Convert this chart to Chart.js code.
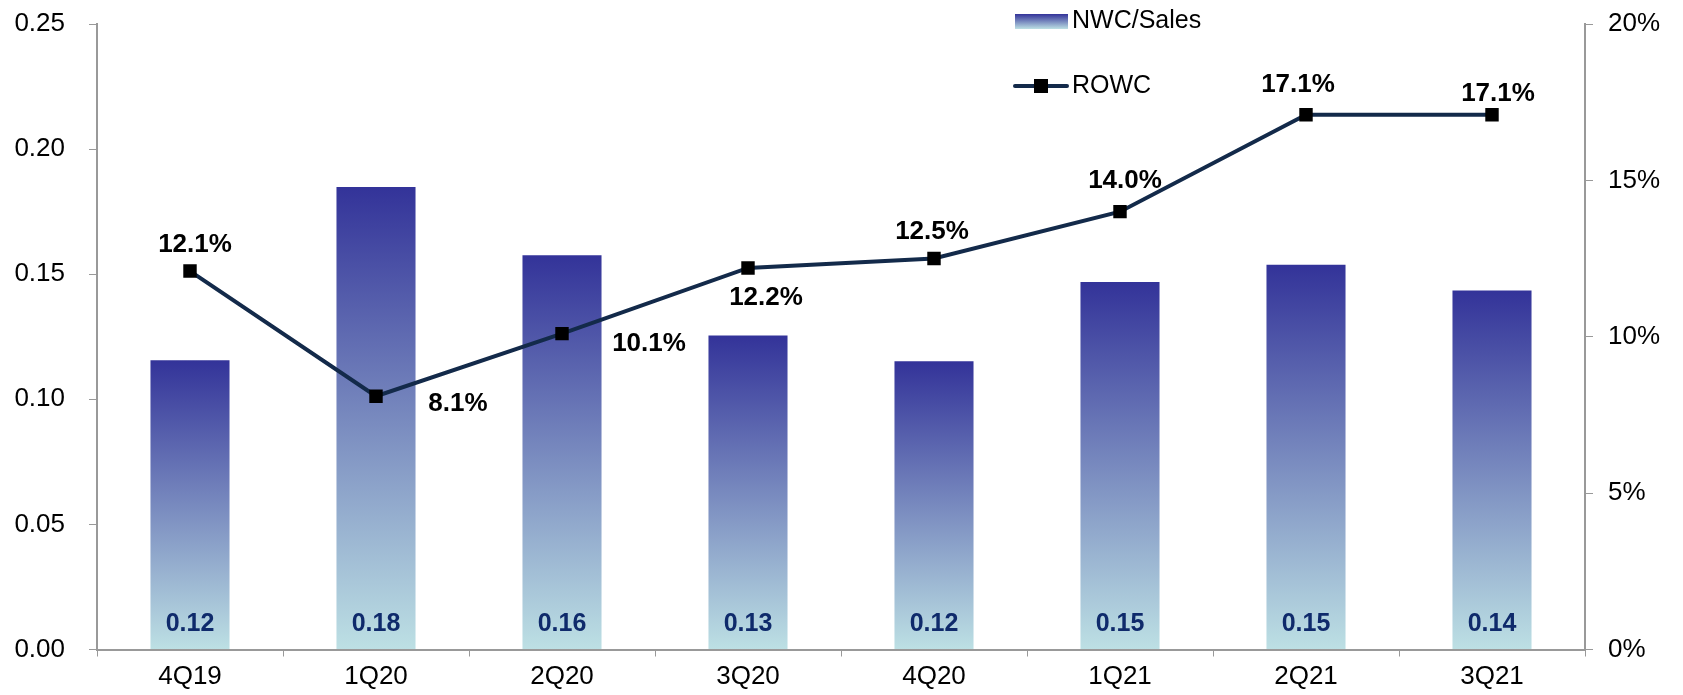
<!DOCTYPE html>
<html>
<head>
<meta charset="utf-8">
<script src="https://cdn.jsdelivr.net/npm/chart.js@4/dist/chart.umd.min.js"></script>
<style>
  html, body { margin: 0; padding: 0; background: #fff; }
  #wrap { width: 1683px; height: 695px; position: relative; }
</style>
</head>
<body>
<div id="wrap"><canvas id="myChart"></canvas></div>
<script>
// quarters on the x axis
const quarters = ['4Q19', '1Q20', '2Q20', '3Q20', '4Q20', '1Q21', '2Q21', '3Q21'];
// NWC/Sales ratio (bars, left axis)
const nwcSales = [0.1156, 0.1849, 0.1576, 0.1255, 0.1152, 0.1469, 0.1538, 0.1435];
// ROWC in % (line, right axis)
const rowc = [12.1, 8.1, 10.1, 12.2, 12.5, 14.0, 17.1, 17.1];
// axis ranges
const nwcRange = [0, 0.25, 0.05];
const rowcRange = [0, 20, 5];

// where each ROWC label sits relative to its point (dx, dy)
const rowcLabelPos = [[5, -26], [82, 8], [87, 10], [18, 30], [-2, -27], [5, -31], [-8, -30], [6, -21]];

const FONT = "'Liberation Sans', Arial, sans-serif";
const AXIS = '#999999';
const LINE = '#132a4a';
const BAR_TOP = '#333399';
const BAR_BOTTOM = '#bde0e4';

//BAR GRADIENT
function barGradient(ctx) {
    const chart = ctx.chart;
    const area = chart.chartArea;
    if (!area || ctx.type !== 'data') return BAR_TOP;
    const y = chart.scales.y;
    const top = y.getPixelForValue(ctx.raw);
    const bottom = y.getPixelForValue(0);
    const g = chart.ctx.createLinearGradient(0, top, 0, bottom);
    g.addColorStop(0, BAR_TOP);
    g.addColorStop(1, BAR_BOTTOM);
    return g;
}

//VALUE LABELS
const valueLabels = {
    id: 'valueLabels',
    afterDatasetsDraw(chart) {
        const ctx = chart.ctx;
        const y = chart.scales.y;
        ctx.save();
        ctx.textAlign = 'center';
        ctx.textBaseline = 'middle';
        // bar values near the base
        ctx.font = 'bold 25px ' + FONT;
        ctx.fillStyle = '#0f2a6b';
        chart.getDatasetMeta(0).data.forEach((bar, i) => {
            ctx.fillText(nwcSales[i].toFixed(2), bar.x, y.getPixelForValue(0) - 25);
        });
        // ROWC values
        ctx.font = 'bold 26px ' + FONT;
        ctx.fillStyle = '#000';
        chart.getDatasetMeta(1).data.forEach((pt, i) => {
            const [dx, dy] = rowcLabelPos[i];
            ctx.fillText(rowc[i].toFixed(1) + '%', pt.x + dx, pt.y + dy);
        });
        ctx.restore();
    }
};

//LEGEND
const sideLegend = {
    id: 'sideLegend',
    afterDraw(chart) {
        const ctx = chart.ctx;
        ctx.save();
        const g = ctx.createLinearGradient(0, 14, 0, 29);
        g.addColorStop(0, BAR_TOP);
        g.addColorStop(1, BAR_BOTTOM);
        ctx.fillStyle = g;
        ctx.fillRect(1015, 14, 53, 15);

        ctx.strokeStyle = LINE;
        ctx.lineWidth = 4;
        ctx.lineCap = 'round';
        ctx.beginPath();
        ctx.moveTo(1015, 86);
        ctx.lineTo(1067, 86);
        ctx.stroke();
        ctx.fillStyle = '#000';
        ctx.fillRect(1034, 79, 14, 14);

        ctx.font = '25px ' + FONT;
        ctx.textAlign = 'left';
        ctx.textBaseline = 'middle';
        ctx.fillText('NWC/Sales', 1072, 21);
        ctx.fillText('ROWC', 1072, 86);
        ctx.restore();
    }
};

const data = {
    labels: quarters,
    datasets: [{
        type: 'bar',
        label: 'NWC/Sales',
        data: nwcSales,
        yAxisID: 'y',
        backgroundColor: barGradient,
        borderWidth: 0,
        categoryPercentage: 0.85,
        barPercentage: 0.5,
        order: 2
    }, {
        type: 'line',
        label: 'ROWC',
        data: rowc,
        yAxisID: 'y1',
        borderColor: LINE,
        borderWidth: 4,
        pointStyle: 'rect',
        pointRadius: 9.5,
        pointBorderWidth: 0,
        pointBackgroundColor: '#000',
        tension: 0,
        order: 1
    }]
};

const tickFont = { family: FONT, size: 26 };

// fixed axis width, no extra room above/below for the end labels
function fixWidth(w) {
    return s => {
        s.width = w;
        s.paddingTop = 0;
        s.paddingBottom = 0;
    };
}

const config = {
    data: data,
    options: {
        responsive: false,
        animation: false,
        layout: { padding: { top: 24, left: 0, right: 0, bottom: 0 } },
        plugins: {
            legend: { display: false },
            tooltip: { enabled: false }
        },
        scales: {
            x: {
                grid: { drawOnChartArea: false, color: AXIS, tickLength: 7, offset: true },
                border: { color: AXIS, width: 2 },
                ticks: { font: tickFont, color: '#000', padding: 5, maxRotation: 0 },
                afterFit(s) { s.height = 45.5; }
            },
            y: {
                position: 'left',
                min: nwcRange[0], max: nwcRange[1],
                grid: { drawOnChartArea: false, color: AXIS, tickLength: 8 },
                border: { color: AXIS, width: 2 },
                ticks: {
                    stepSize: nwcRange[2], font: tickFont, color: '#000', padding: 24,
                    callback: v => v.toFixed(2)
                },
                afterFit: fixWidth(97)
            },
            y1: {
                position: 'right',
                min: rowcRange[0], max: rowcRange[1],
                grid: { drawOnChartArea: false, color: AXIS, tickLength: 8 },
                border: { color: AXIS, width: 2 },
                ticks: {
                    stepSize: rowcRange[2], font: tickFont, color: '#000', padding: 15,
                    callback: v => v + '%'
                },
                afterFit: fixWidth(98)
            }
        }
    },
    plugins: [valueLabels, sideLegend]
};

const canvas = document.getElementById('myChart');
canvas.width = 1683;
canvas.height = 695;
const myChart = new Chart(canvas, config);
</script>
</body>
</html>
